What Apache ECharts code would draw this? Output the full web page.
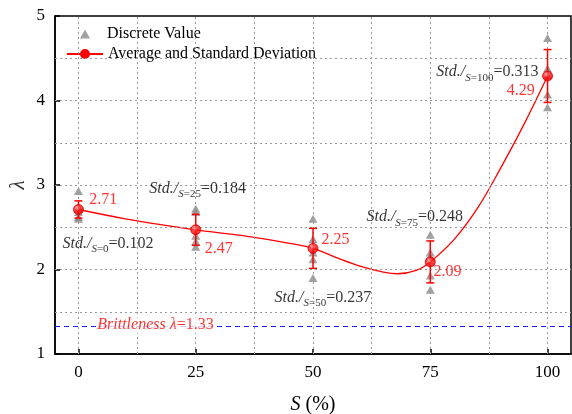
<!DOCTYPE html>
<html><head><meta charset="utf-8">
<script src="https://cdn.jsdelivr.net/npm/echarts@6/dist/echarts.min.js"></script>
<style>html,body{margin:0;padding:0;background:#fff}#c{width:572px;height:414px}</style>
</head><body><div id="c"></div>
<script>
// ---- data ----
const categories = [0, 25, 50, 75, 100];
const discrete0 = [2.93, 2.72, 2.68, 2.62, 2.60];
const discrete25 = [2.72, 2.68, 2.40, 2.33, 2.27];
const discrete50 = [2.60, 2.36, 2.20, 2.12, 1.90];
const discrete75 = [2.41, 2.20, 2.15, 1.93, 1.76];
const discrete100 = [4.74, 4.38, 4.30, 4.07, 3.92];
const means = [2.71, 2.47, 2.25, 2.09, 4.29];
const stds = [0.102, 0.184, 0.237, 0.248, 0.313];
const curveS = [0, 10, 20, 25, 35, 45, 50, 55, 60, 65, 68, 72, 75, 80, 85, 90, 95, 100];
const curveL = [2.71, 2.60, 2.51, 2.47, 2.40, 2.31, 2.25, 2.14, 2.04, 1.97, 1.95, 1.99, 2.09, 2.35, 2.72, 3.20, 3.72, 4.29];
const xTicks = [0, 25, 50, 75, 100];
const yTicks = [1, 2, 3, 4, 5];
const xGrid = [0, 12.5, 25, 37.5, 50, 62.5, 75, 87.5, 100];
const yGrid = [1.5, 2, 2.5, 3, 3.5, 4, 4.5];
const brittleness = 1.33;
const yAxisTitle = 'λ';
// annotation anchors (data units)
const valueLabelPos = [[2.3, 2.82], [26.9, 2.25], [51.8, 2.35], [75.7, 1.97], [91.3, 4.12]];
const stdLabelPos = [[-3.4, 2.31], [15.1, 2.96], [41.8, 1.67], [61.4, 2.62], [76.3, 4.34]];
const brittleLabelPos = [3.8, 1.34];
const yTitlePos = [-12.8, 3.0];

const FONT = 'Liberation Serif';
const discreteAll = [discrete0, discrete25, discrete50, discrete75, discrete100];
const discreteData = [];
discreteAll.forEach((arr, i) => arr.forEach(v => discreteData.push([categories[i], v])));
const meanData = categories.map((s, i) => [s, means[i]]);
const errData = categories.map((s, i) => [s, means[i] - stds[i], means[i] + stds[i]]);
const curveData = curveS.map((s, i) => [s, curveL[i]]);

const valueLabels = valueLabelPos.map((p, i) => ({
  value: p,
  label: { formatter: means[i].toFixed(2) }
}));
const stdLabels = stdLabelPos.map((p, i) => ({
  value: p,
  label: { formatter: '{a|Std./}{b|S}{c|=' + categories[i] + '}{d|=' + stds[i].toFixed(3) + '}' }
}));

const redFill = {
  type: 'radial', x: 0.4, y: 0.35, r: 0.6,
  colorStops: [{ offset: 0, color: '#ffb0b0' }, { offset: 0.45, color: '#ff1a1a' }, { offset: 1, color: '#ee0000' }]
};
const BLUE = '#1a1aff';

const chart = echarts.init(document.getElementById('c'), null, { renderer: 'canvas' });
chart.setOption({
  animation: false,
  textStyle: { fontFamily: FONT },
  grid: { left: 55, right: 1, top: 16, bottom: 60, containLabel: false, outerBoundsMode: 'none',
    show: true, borderColor: '#000', borderWidth: 1.5, backgroundColor: 'transparent' },
  legend: [
    {
      data: [{ name: 'Discrete Value', icon: 'triangle' }],
      left: 75, top: 21, itemWidth: 10, itemHeight: 9,
      textStyle: { fontFamily: FONT, fontSize: 16, color: '#000', padding: [0, 0, 0, 12] }
    },
    {
      data: [{ name: 'Average and Standard Deviation' }],
      left: 61, top: 41, itemWidth: 36, itemHeight: 10,
      textStyle: { fontFamily: FONT, fontSize: 16, color: '#000' }
    }
  ],
  xAxis: {
    type: 'value', min: -5, max: 105,
    name: '{i|S} (%)', nameLocation: 'middle', nameGap: 41,
    nameTextStyle: { fontFamily: FONT, fontSize: 20, color: '#000', rich: { i: { fontStyle: 'italic', fontFamily: FONT, fontSize: 20 } } },
    axisLine: { show: true, onZero: false, lineStyle: { color: '#000', width: 1.5 } },
    axisTick: { show: true, inside: true, length: 5, customValues: xTicks, lineStyle: { color: '#000', width: 1.5 } },
    axisLabel: { customValues: xTicks, fontFamily: FONT, fontSize: 17, color: '#000', margin: 10 },
    splitLine: { show: false }
  },
  yAxis: {
    type: 'value', min: 1, max: 5,
    axisLine: { show: true, onZero: false, lineStyle: { color: '#000', width: 1.5 } },
    axisTick: { show: true, inside: true, length: 5, customValues: yTicks, lineStyle: { color: '#000', width: 1.5 } },
    axisLabel: { customValues: yTicks, fontFamily: FONT, fontSize: 17, color: '#000', margin: 10 },
    splitLine: { show: false }
  },
  series: [
    {
      name: 'grid', type: 'line', data: [], silent: true,
      itemStyle: { color: '#999' }, lineStyle: { color: '#999' },
      markLine: {
        silent: true, symbol: 'none', animation: false,
        label: { show: false },
        lineStyle: { color: '#999', type: [2, 3], width: 1 },
        data: xGrid.map(v => ({ xAxis: v })).concat(yGrid.map(v => ({ yAxis: v })))
      }
    },
    {
      name: 'brittle', type: 'line', data: [], silent: true,
      itemStyle: { color: BLUE }, lineStyle: { color: BLUE },
      markLine: {
        silent: true, symbol: 'none', animation: false,
        label: { show: false },
        lineStyle: { color: BLUE, type: [5, 4], width: 1.2 },
        data: [{ yAxis: brittleness, lineStyle: { color: BLUE, type: [5, 4], width: 1.2 } }]
      }
    },
    {
      name: 'Discrete Value', type: 'scatter', symbol: 'triangle', symbolSize: [9, 8],
      itemStyle: { color: '#8a8a8a' }, data: discreteData, z: 3
    },
    {
      name: 'Average and Standard Deviation', type: 'line', data: curveData, smooth: 0.4,
      symbol: 'circle', symbolSize: 10, showSymbol: false,
      lineStyle: { color: '#ff0000', width: 1.3 },
      itemStyle: { color: '#ff0000', borderColor: '#ff0000', borderWidth: 1 }, z: 4
    },
    {
      name: 'err', type: 'custom', z: 5,
      renderItem: function (params, api) {
        const x = api.value(0);
        const lo = api.coord([x, api.value(1)]);
        const hi = api.coord([x, api.value(2)]);
        const w = 4;
        const st = { stroke: '#ff0000', lineWidth: 1.5 };
        return {
          type: 'group', children: [
            { type: 'line', shape: { x1: lo[0], y1: lo[1], x2: hi[0], y2: hi[1] }, style: st },
            { type: 'line', shape: { x1: lo[0] - w, y1: lo[1], x2: lo[0] + w, y2: lo[1] }, style: st },
            { type: 'line', shape: { x1: hi[0] - w, y1: hi[1], x2: hi[0] + w, y2: hi[1] }, style: st }
          ]
        };
      },
      encode: { x: 0, y: [1, 2] },
      data: errData
    },
    {
      name: 'means', type: 'scatter', symbol: 'circle', symbolSize: 10, z: 6,
      itemStyle: { color: redFill, borderColor: '#e00000', borderWidth: 1 },
      data: meanData
    },
    {
      name: 'valLabels', type: 'scatter', symbolSize: 0, silent: true, z: 7,
      label: { show: true, position: 'right', distance: 0, color: '#ff0000', fontFamily: FONT, fontSize: 16 },
      data: valueLabels
    },
    {
      name: 'stdLabels', type: 'scatter', symbolSize: 0, silent: true, z: 7,
      label: {
        show: true, position: 'right', distance: 0, color: '#000', fontFamily: FONT, fontSize: 16,
        rich: {
          a: { fontFamily: FONT, fontStyle: 'italic', fontSize: 16, color: '#000' },
          b: { fontFamily: FONT, fontStyle: 'italic', fontSize: 11, color: '#000', padding: [12, 0, 0, 0] },
          c: { fontFamily: FONT, fontSize: 11, color: '#000', padding: [12, 0, 0, 0] },
          d: { fontFamily: FONT, fontSize: 16, color: '#000' }
        }
      },
      data: stdLabels
    },
    {
      name: 'brittleLabel', type: 'scatter', symbolSize: 0, silent: true, z: 7,
      label: {
        show: true, position: 'right', distance: 0, backgroundColor: '#fff', padding: [0, 1, 0, 1],
        formatter: '{i|Brittleness λ}{n|=' + brittleness.toFixed(2) + '}',
        rich: {
          i: { fontFamily: FONT, fontStyle: 'italic', fontSize: 16, color: '#ff0000' },
          n: { fontFamily: FONT, fontSize: 16, color: '#ff0000' }
        }
      },
      data: [brittleLabelPos]
    },
    {
      name: 'yTitle', type: 'scatter', symbolSize: 0, silent: true, z: 7, clip: false,
      label: {
        show: true, position: 'inside', rotate: 90, formatter: yAxisTitle,
        fontFamily: FONT, fontSize: 21, fontStyle: 'italic', color: '#000'
      },
      data: [yTitlePos]
    }
  ]
});
</script>
</body></html>
